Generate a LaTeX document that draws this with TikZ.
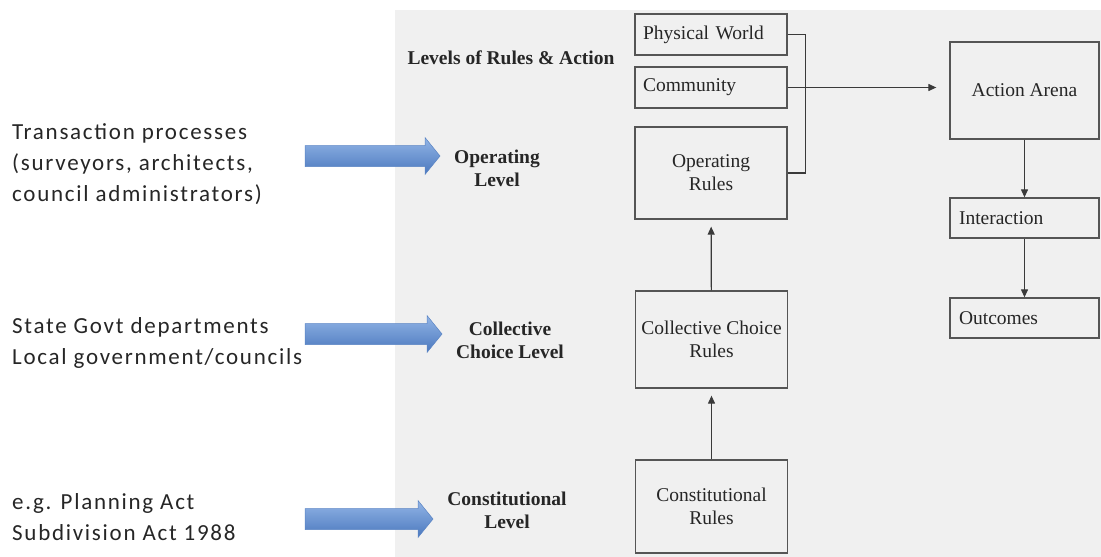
\documentclass[tikz,border=0pt]{standalone}
\usepackage{fontspec}
\setmainfont{Liberation Serif}
\newfontfamily\calfont[LetterSpace=7.5]{Carlito}
\usetikzlibrary{arrows.meta}
\definecolor{bggray}{HTML}{F0F0F0}
\definecolor{boxgray}{HTML}{555555}
\definecolor{linegray}{HTML}{3A3A3A}
\definecolor{arrtop}{HTML}{93B5E6}
\definecolor{arrmid}{HTML}{6E99D6}
\definecolor{arrbot}{HTML}{4A78BE}
\definecolor{arrline}{HTML}{5A84C4}
\definecolor{lefttext}{HTML}{262626}
\begin{document}
\begin{tikzpicture}[x=1pt,y=-1pt,
  box/.style={draw=boxgray, line width=1.3pt, fill=bggray, inner sep=0pt,
    font=\fontsize{19.5}{23}\selectfont, align=center, text=black!85},
  lbox/.style={box, align=left},
  lvl/.style={font=\fontsize{19.5}{23}\selectfont\bfseries, align=center, text=black!85},
  lefttxt/.style={font=\calfont\fontsize{23}{31}\selectfont, align=left, anchor=west, text=lefttext, inner sep=0pt},
  conn/.style={draw=linegray, line width=1.2pt},
  arr/.style={conn, -{Triangle[length=8pt,width=7pt]}},
  pics/barrow/.style={code={
    \shade[top color=arrtop, middle color=arrmid, bottom color=arrbot, draw=arrline, line width=0.5pt]
      (0,-10.5) -- (#1-15,-10.5) -- (#1-15,-18.5) -- (#1,0) -- (#1-15,18.5) -- (#1-15,10.5) -- (0,10.5) -- cycle;}}
]
\useasboundingbox (0,0) rectangle (1101,557);
\fill[bggray] (395,10) rectangle (1101,557);

% left-hand texts
\node[lefttxt] (t1) at (12,164) {Transaction processes\\(surveyors, architects,\\council administrators)};
\node[lefttxt] (t2) at (12,343) {State Govt departments\\Local government/councils};
\node[lefttxt] (t3) at (12,517) {e.g. Planning Act\\Subdivision Act 1988};

% blue block arrows
\pic at (305,156) {barrow=135};
\pic at (305,334) {barrow=137};
\pic at (305,519) {barrow=128};

% level labels
\node[lvl] (title) at (511,58) {Levels of Rules \& Action};
\node[lvl] (l1) at (497,168) {Operating\\Level};
\node[lvl] (l2) at (510,340) {Collective\\Choice Level};
\node[lvl] (l3) at (507,510) {Constitutional\\Level};

% rule boxes
\node[lbox, minimum width=152pt, minimum height=41pt, text width=136pt] (pw) at (711,34.5) {Physical World};
\node[lbox, minimum width=152pt, minimum height=41pt, text width=136pt] (com) at (711,87.5) {Community};
\node[box, minimum width=152pt, minimum height=92pt] (or) at (711,173) {Operating\\Rules};
\node[box, minimum width=152pt, minimum height=97pt] (ccr) at (711.5,339.5) {Collective Choice\\Rules};
\node[box, minimum width=152pt, minimum height=93pt] (cr) at (711.5,506.5) {Constitutional\\Rules};

% action side
\node[box, minimum width=149pt, minimum height=97pt] (aa) at (1024.5,90.5) {Action Arena};
\node[lbox, minimum width=149pt, minimum height=40pt, text width=131pt] (int) at (1024.5,218) {Interaction};
\node[lbox, minimum width=149pt, minimum height=40pt, text width=131pt] (out) at (1024.5,318) {Outcomes};

% connectors
\draw[conn] (pw.east) -- ++(18,0) coordinate (br) |- (or.east);
\draw[arr, shorten >=13pt] (com.east) -- (com.east -| aa.west);
\draw[arr] (aa) -- (int);
\draw[arr] (int) -- (out);
\draw[arr, shorten >=7pt] (cr) -- (ccr);
\draw[arr, shorten >=7pt] (ccr) -- (or);
\end{tikzpicture}
\end{document}
